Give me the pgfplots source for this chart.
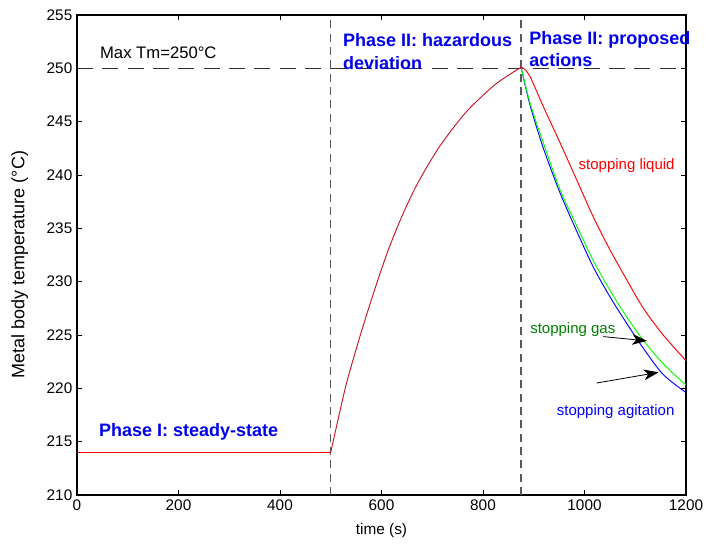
\documentclass[border=0pt]{standalone}
\usepackage{pgfplots}
\pgfplotsset{compat=1.18}
\usepackage{fontspec}
\setmainfont{Liberation Sans}
\usetikzlibrary{arrows.meta}

\definecolor{gasgreen}{RGB}{0,128,0}
\definecolor{phaseblue}{RGB}{0,0,235}
\definecolor{risered}{RGB}{200,20,40}

\begin{document}
\begin{tikzpicture}
\useasboundingbox (-57.75pt,-40.5pt) rectangle (471pt,371.25pt);
\begin{axis}[
  anchor=south west, at={(0,0)},
  scale only axis, width=456.75pt, height=360pt,
  xmin=0, xmax=1200, ymin=210, ymax=255,
  xtick={0,200,...,1200}, ytick={210,215,...,255},
  tick align=inside, xtick pos=both, ytick pos=both,
  major tick length=4pt,
  axis line style={line width=0.8pt},
  every tick/.style={black, line width=0.6pt},
  tick label style={font=\fontsize{11.5}{13}\selectfont},
  /pgf/number format/assume math mode=true,
  /pgf/number format/1000 sep={},
  xlabel={time (s)}, ylabel={Metal body temperature (°C)},
  every axis x label/.style={at={(axis description cs:0.5,0)}, anchor=center, yshift=-27pt, font=\fontsize{11.5}{13}\selectfont},
  every axis y label/.style={at={(axis description cs:-0.094,0.48)}, rotate=90, anchor=center, font=\fontsize{13.5}{15}\selectfont},
  clip=false,
]
% reference lines
\addplot[black!80, line width=0.6pt, dash pattern=on 12pt off 7pt] coordinates {(0,250) (1200,250)};
\addplot[black!65, line width=0.9pt, dash pattern=on 6pt off 4pt] coordinates {(500,210) (500,255)};
\addplot[black!65, line width=0.9pt, dash pattern=on 6pt off 4pt] coordinates {(875,210) (875,255)};

% stopping agitation (after the peak)
\addplot[blue, line width=0.7pt, smooth, tension=0.5] coordinates {
(875,250.1) (893,246.5) (919,242.5) (952,238.3) (985,234.7) (1017,231.4) (1050,228.6) (1083,226.1)
(1116,223.75) (1155,221.3) (1200,219.6)};
% stopping gas (after the peak)
\addplot[green, line width=0.7pt, smooth, tension=0.5] coordinates {
(875,250.1) (893,246.7) (919,243.0) (952,238.6) (985,235.2) (1017,232.0) (1050,229.2) (1083,226.7)
(1116,224.5) (1155,222.3) (1200,220.3)};
% stopping liquid (after the peak)
\addplot[red, line width=0.7pt, smooth, tension=0.5] coordinates {
(875,250.1) (880,250.0) (893,249.2) (919,246.4) (952,243.0) (985,239.5) (1017,236.1) (1050,233.0) (1083,230.2)
(1116,227.5) (1155,225.0) (1200,222.6)};
% common part: steady state and hazardous deviation
\addplot[red, line width=0.7pt] coordinates {(0,214) (500,214)};
\addplot[risered, line width=0.7pt, smooth, tension=0.5] coordinates {
(500,214) (528,219.9) (549,223.5) (570,226.8) (589,229.6) (612,232.8) (640,236.1)
(671,239.2) (712,242.5) (756,245.3) (783,246.7) (827,248.6) (875,250.1)};

% annotations
\node[anchor=west, inner sep=0pt, font=\fontsize{12.5}{14}\selectfont] at (axis cs:45,251.5) {Max Tm=250°C};
\node[anchor=north west, inner sep=0pt, align=left, text=phaseblue, font=\fontsize{13.5}{17}\selectfont\bfseries] at (axis cs:524,253.3) {Phase II: hazardous\\deviation};
\node[anchor=north west, inner sep=0pt, align=left, text=phaseblue, font=\fontsize{13.5}{16.3}\selectfont\bfseries] at (axis cs:891,253.5) {Phase II: proposed\\actions};
\node[anchor=base west, inner sep=0pt, text=phaseblue, font=\fontsize{13.5}{16}\selectfont\bfseries] at (axis cs:43,215.47) {Phase I: steady-state};
\node[anchor=base west, inner sep=0pt, text=red, font=\fontsize{11.25}{13}\selectfont] at (axis cs:988,240.5) {stopping liquid};
\node[anchor=base west, inner sep=0pt, text=gasgreen, font=\fontsize{11.25}{13}\selectfont] at (axis cs:892.6,225.16) {stopping gas};
\node[anchor=base west, inner sep=0pt, text=blue, font=\fontsize{11.25}{13}\selectfont] at (axis cs:945,217.5) {stopping agitation};
\draw[black, line width=0.6pt, -{Stealth[length=11pt,width=8pt,inset=3pt]}] (axis cs:1037,224.85) -- (axis cs:1123,224.45);
\draw[black, line width=0.6pt, -{Stealth[length=11pt,width=8pt,inset=3pt]}] (axis cs:1024,220.5) -- (axis cs:1146,221.5);
\end{axis}
\end{tikzpicture}
\end{document}
